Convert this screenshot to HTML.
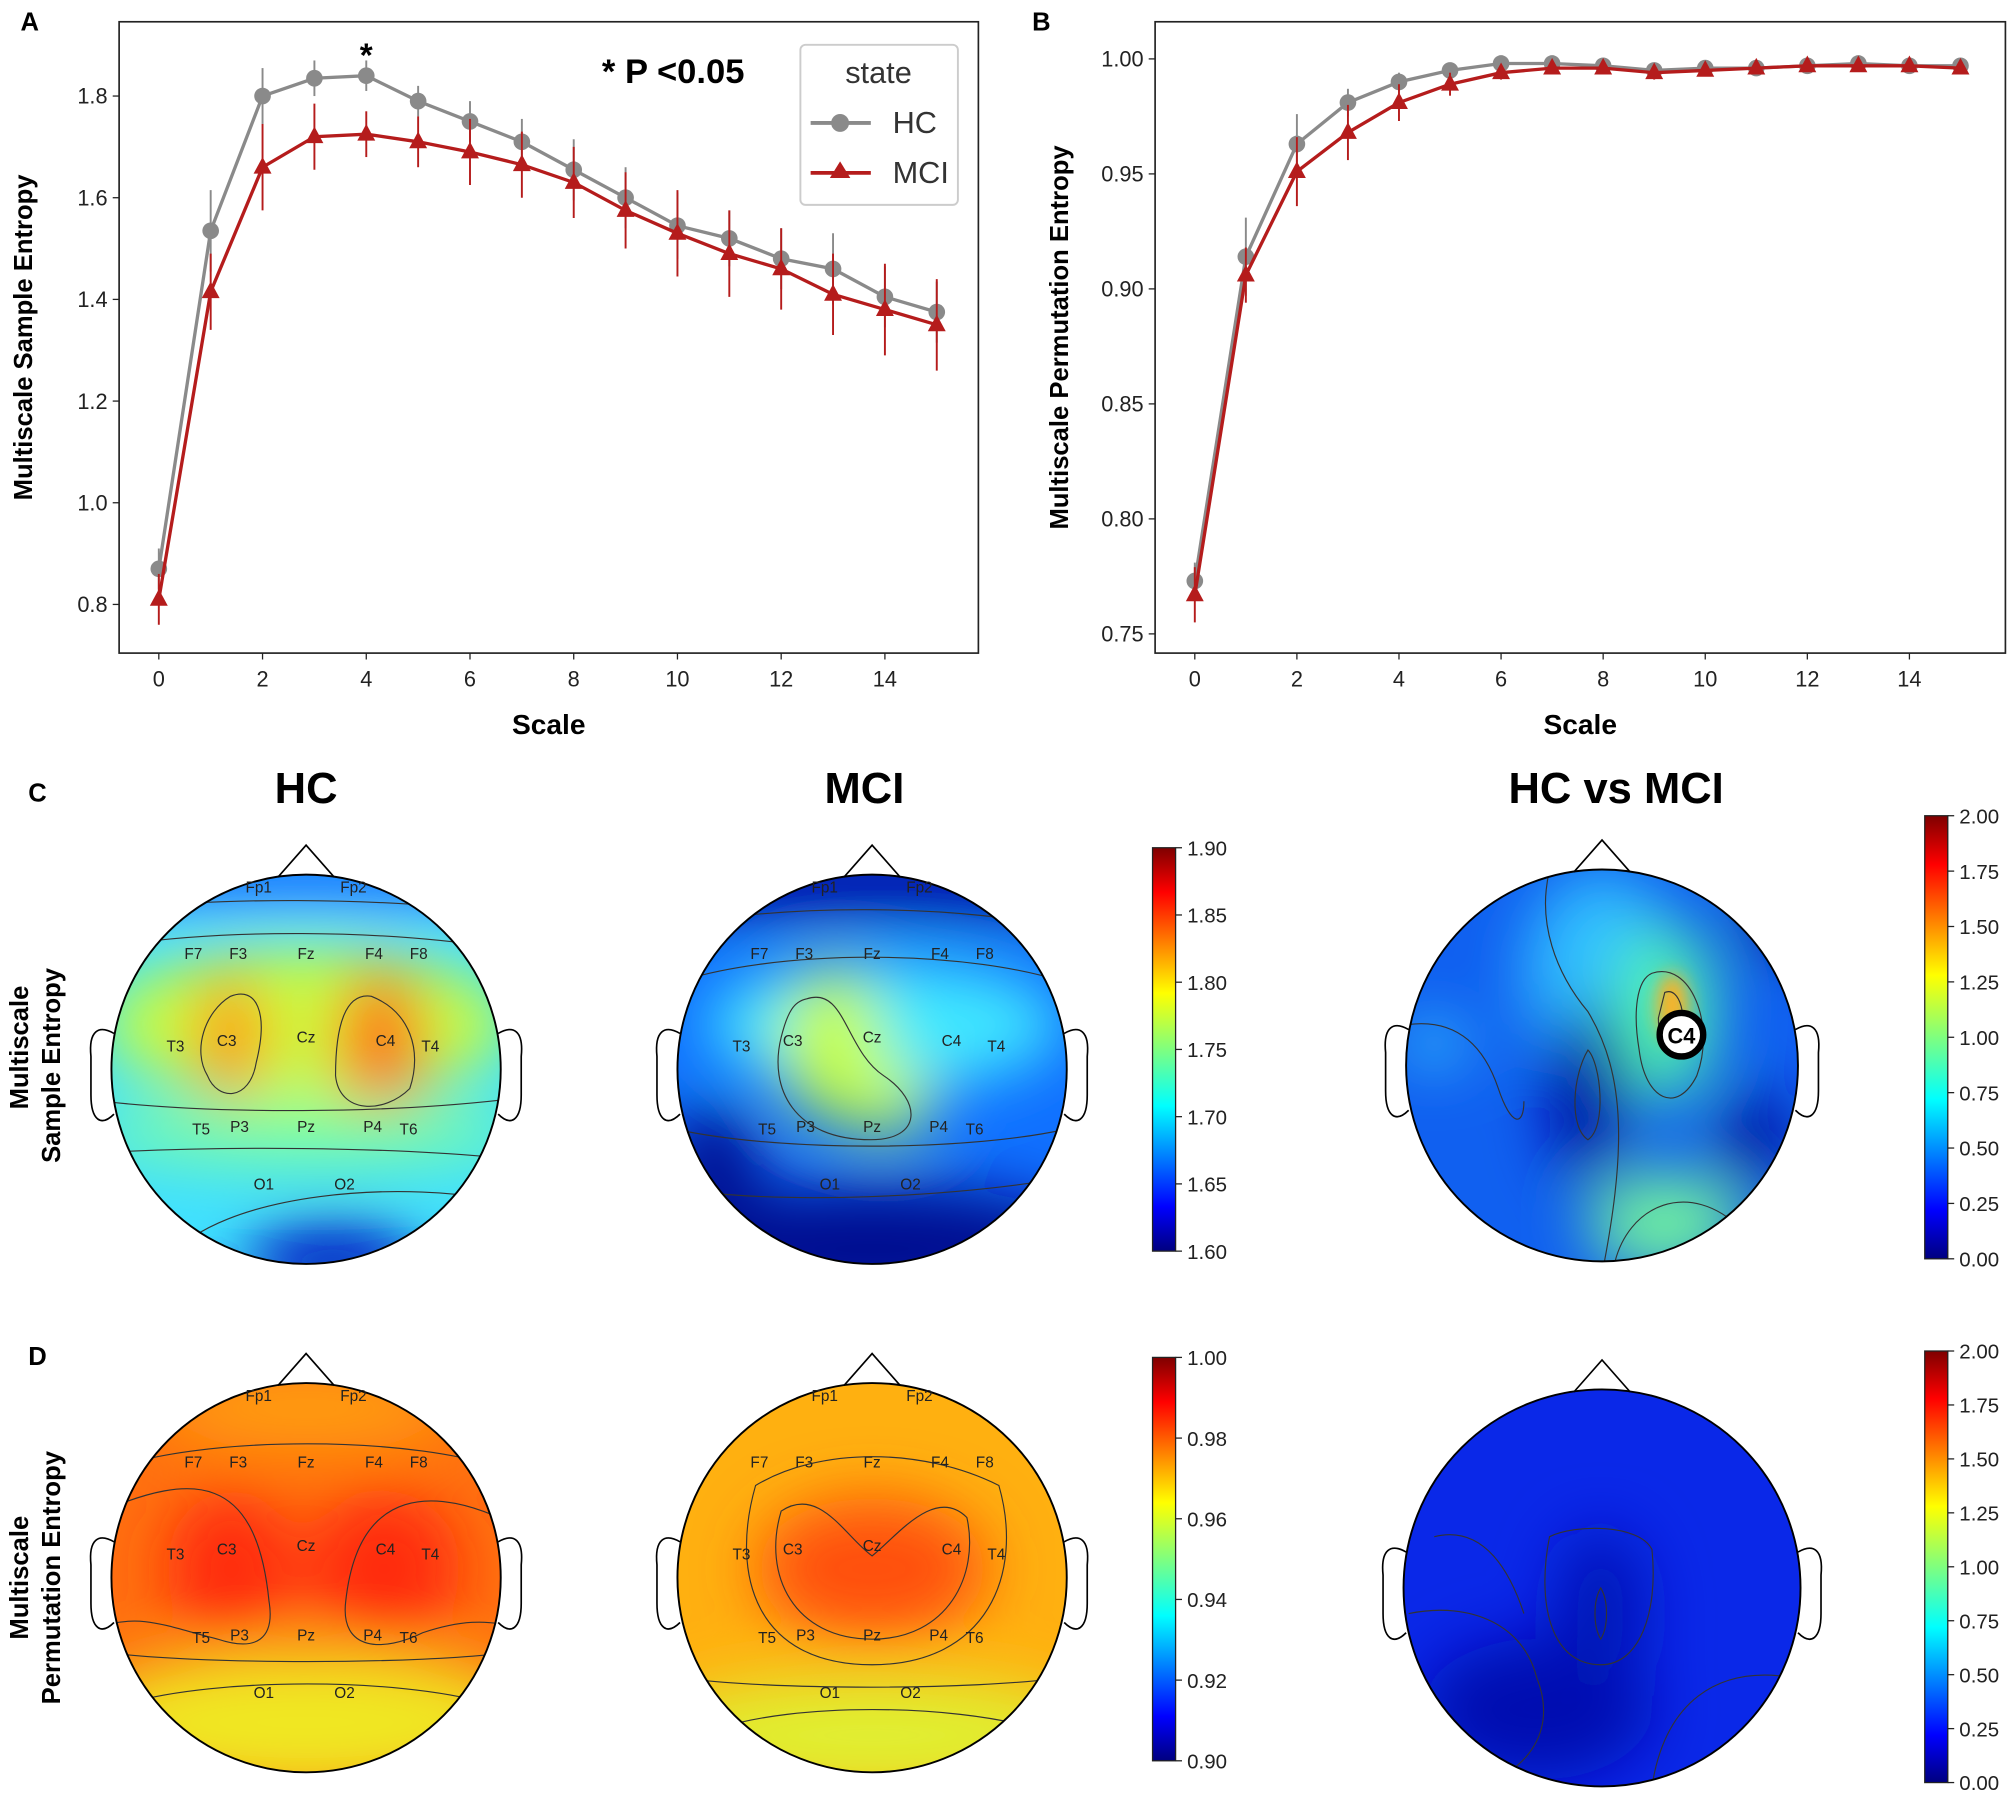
<!DOCTYPE html>
<html><head><meta charset="utf-8"><style>
html,body{margin:0;padding:0;background:#fff}
svg{display:block;font-family:"Liberation Sans",sans-serif}
</style></head><body>
<svg id="fig" width="2008" height="1806" viewBox="0 0 1568 1410.3" xmlns="http://www.w3.org/2000/svg">
<defs>
<linearGradient id="jet" x1="0" y1="1" x2="0" y2="0">
<stop offset="0" stop-color="#00007f"/><stop offset="0.11" stop-color="#0000ff"/><stop offset="0.36" stop-color="#00ffff"/><stop offset="0.5" stop-color="#7fff7f"/><stop offset="0.64" stop-color="#ffff00"/><stop offset="0.89" stop-color="#ff0000"/><stop offset="1" stop-color="#7f0000"/>
</linearGradient>
<filter id="bl" x="-50%" y="-50%" width="200%" height="200%"><feGaussianBlur stdDeviation="24"/></filter>
<filter id="bs" x="-100%" y="-100%" width="300%" height="300%"><feGaussianBlur stdDeviation="7"/></filter>
<clipPath id="c1"><circle cx="239" cy="835" r="152"/></clipPath>
<clipPath id="c2"><circle cx="681" cy="835" r="152"/></clipPath>
<clipPath id="c3"><circle cx="1251" cy="832" r="153"/></clipPath>
<clipPath id="c4"><circle cx="239" cy="1232" r="152"/></clipPath>
<clipPath id="c5"><circle cx="681" cy="1232" r="152"/></clipPath>
<clipPath id="c6"><circle cx="1251" cy="1240" r="155"/></clipPath>
</defs>
<g id="chartA"></g>
<g id="chartB"></g>

<text x="16" y="24" font-size="20" font-weight="bold">A</text>
<text x="806" y="24" font-size="20" font-weight="bold">B</text>
<text x="22" y="626" font-size="20" font-weight="bold">C</text>
<text x="22" y="1066" font-size="20" font-weight="bold">D</text>

<text x="239" y="627" font-size="34" font-weight="bold" text-anchor="middle">HC</text>
<text x="675" y="627" font-size="34" font-weight="bold" text-anchor="middle">MCI</text>
<text x="1262" y="627" font-size="34" font-weight="bold" text-anchor="middle">HC vs MCI</text>
<text transform="translate(22,818) rotate(-90)" font-size="20" font-weight="bold" text-anchor="middle">Multiscale</text>
<text transform="translate(47,832) rotate(-90)" font-size="20" font-weight="bold" text-anchor="middle">Sample Entropy</text>
<text transform="translate(22,1232) rotate(-90)" font-size="20" font-weight="bold" text-anchor="middle">Multiscale</text>
<text transform="translate(47,1232) rotate(-90)" font-size="20" font-weight="bold" text-anchor="middle">Permutation Entropy</text>

<g>
<g clip-path="url(#c1)"><rect x="80" y="680" width="320" height="320" fill="#40e0ff"/>
<g filter="url(#bl)"><rect x="60" y="660" width="360" height="45" fill="#1060ff"/><ellipse cx="239" cy="800" rx="160" ry="60" fill="#c8ff40"/><ellipse cx="180" cy="810" rx="30" ry="50" fill="#ff9a10"/><ellipse cx="297" cy="815" rx="35" ry="60" fill="#ff7010"/><ellipse cx="239" cy="885" rx="170" ry="25" fill="#80ffa0"/><ellipse cx="260" cy="985" rx="70" ry="30" fill="#0018c0"/></g></g>
<g fill="none" stroke="#333" stroke-width="0.9" clip-path="url(#c1)">
<path d="M80,712 C160,700 300,700 400,714"/><path d="M80,740 C170,725 300,725 400,742"/><path d="M80,860 C170,870 300,870 400,858"/><path d="M80,900 C170,895 300,895 400,905"/><path d="M130,985 C170,930 320,920 400,940"/>
<path d="M180,778 C200,770 210,790 200,830 C195,860 170,860 162,840 C150,820 160,790 180,778Z"/><path d="M290,778 C320,790 330,820 320,850 C300,870 265,870 262,840 C262,800 270,775 290,778Z"/></g>
<circle cx="239" cy="835" r="152" fill="none" stroke="#000" stroke-width="1.5"/></g>
<g>
<g clip-path="url(#c2)"><rect x="520" y="680" width="320" height="320" fill="#1070ff"/>
<g filter="url(#bl)"><rect x="500" y="660" width="360" height="55" fill="#0010a0"/><ellipse cx="690" cy="800" rx="140" ry="50" fill="#40e8ff"/><ellipse cx="650" cy="815" rx="40" ry="60" fill="#c8ff40"/><ellipse cx="690" cy="860" rx="40" ry="25" fill="#c8ff40"/><ellipse cx="681" cy="975" rx="180" ry="50" fill="#000c90"/><ellipse cx="555" cy="905" rx="40" ry="40" fill="#000c90"/></g></g>
<g fill="none" stroke="#333" stroke-width="0.9" clip-path="url(#c2)">
<path d="M520,725 C600,705 760,705 840,728"/><path d="M520,770 C600,740 760,740 840,770"/><path d="M520,880 C600,900 760,900 840,880"/><path d="M540,930 C620,940 740,935 830,920"/><path d="M630,780 C660,770 660,820 690,840 C720,860 720,890 680,890 C620,890 600,850 610,810 C615,790 620,782 630,780Z"/></g>
<circle cx="681" cy="835" r="152" fill="none" stroke="#000" stroke-width="1.5"/></g>
<g>
<g clip-path="url(#c3)"><rect x="1090" y="670" width="330" height="330" fill="#1060f0"/>
<g filter="url(#bl)"><ellipse cx="1250" cy="760" rx="60" ry="80" fill="#30c0ff"/><ellipse cx="1300" cy="790" rx="40" ry="70" fill="#50f0b0"/><ellipse cx="1300" cy="955" rx="60" ry="40" fill="#70f0a0"/><ellipse cx="1240" cy="855" rx="30" ry="70" fill="#0010a0"/><ellipse cx="1370" cy="890" rx="30" ry="40" fill="#0018a0"/><ellipse cx="1390" cy="720" rx="30" ry="30" fill="#0018a0"/><ellipse cx="1120" cy="815" rx="25" ry="15" fill="#40e0ff"/></g>
<ellipse cx="1306" cy="786" rx="12" ry="26" fill="#ffb020" filter="url(#bs)"/></g>
<g fill="none" stroke="#333" stroke-width="0.9" clip-path="url(#c3)">
<path d="M1210,680 C1200,720 1215,760 1240,790 C1270,840 1270,900 1250,1000"/><path d="M1290,760 C1320,750 1340,800 1325,840 C1310,870 1285,860 1280,820 C1275,790 1278,765 1290,760Z"/><path d="M1300,775 C1312,770 1318,795 1312,815 C1305,830 1295,815 1295,795Z"/><path d="M1100,800 C1140,795 1160,820 1170,850 C1180,880 1190,880 1190,860"/><path d="M1240,820 C1250,830 1255,880 1240,890 C1225,880 1228,840 1240,820Z"/><path d="M1260,990 C1270,940 1320,920 1360,960"/></g>
<circle cx="1251" cy="832" r="153" fill="none" stroke="#000" stroke-width="1.5"/>
<circle cx="1313" cy="808" r="17" fill="#fff" stroke="#000" stroke-width="5"/>
<text x="1313" y="815" font-size="17" font-weight="bold" text-anchor="middle">C4</text></g>
<g>
<g clip-path="url(#c4)"><rect x="80" y="1075" width="320" height="320" fill="#ff7010"/>
<g filter="url(#bl)"><ellipse cx="180" cy="1225" rx="50" ry="60" fill="#ff2a10"/><ellipse cx="300" cy="1225" rx="60" ry="60" fill="#ff2a10"/><ellipse cx="239" cy="1345" rx="180" ry="55" fill="#f0e820"/><ellipse cx="239" cy="1100" rx="120" ry="30" fill="#ffa010"/></g></g>
<g fill="none" stroke="#333" stroke-width="0.9" clip-path="url(#c4)">
<path d="M80,1180 C150,1150 200,1150 210,1250 C215,1280 200,1290 170,1280 C130,1270 110,1260 80,1270"/><path d="M400,1190 C340,1160 280,1160 270,1250 C265,1290 300,1290 330,1275 C360,1265 380,1265 400,1270"/><path d="M80,1290 C150,1300 330,1300 400,1290"/><path d="M100,1330 C170,1310 310,1310 380,1330"/><path d="M80,1150 C150,1120 330,1120 400,1150"/></g>
<circle cx="239" cy="1232" r="152" fill="none" stroke="#000" stroke-width="1.5"/></g>
<g>
<g clip-path="url(#c5)"><rect x="520" y="1075" width="320" height="320" fill="#ffb010"/>
<g filter="url(#bl)"><ellipse cx="681" cy="1225" rx="90" ry="55" fill="#ff5010"/><ellipse cx="681" cy="1355" rx="180" ry="45" fill="#e0f030"/></g></g>
<g fill="none" stroke="#333" stroke-width="0.9" clip-path="url(#c5)">
<path d="M610,1180 C640,1160 660,1200 681,1215 C700,1200 730,1160 755,1185 C765,1230 740,1280 681,1280 C620,1280 595,1230 610,1180Z"/><path d="M590,1160 C640,1130 720,1130 780,1160 C800,1230 770,1300 681,1300 C590,1300 570,1230 590,1160Z"/><path d="M530,1310 C600,1320 760,1320 830,1310"/><path d="M560,1350 C620,1330 740,1330 810,1350"/></g>
<circle cx="681" cy="1232" r="152" fill="none" stroke="#000" stroke-width="1.5"/></g>
<g>
<g clip-path="url(#c6)"><rect x="1090" y="1080" width="330" height="330" fill="#0a28e8"/>
<g filter="url(#bl)"><ellipse cx="1200" cy="1335" rx="90" ry="55" fill="#0010b0"/><ellipse cx="1250" cy="1260" rx="35" ry="65" fill="#0014b8"/></g></g>
<g fill="none" stroke="#333" stroke-width="0.9" clip-path="url(#c6)">
<path d="M1210,1200 C1230,1190 1280,1190 1290,1210 C1295,1260 1280,1300 1250,1300 C1210,1300 1200,1250 1210,1200Z"/><path d="M1100,1260 C1150,1250 1190,1270 1200,1310 C1220,1360 1180,1390 1150,1395"/><path d="M1120,1200 C1160,1190 1180,1230 1190,1260"/><path d="M1250,1240 C1256,1250 1256,1270 1250,1280 C1244,1270 1244,1250 1250,1240Z"/><path d="M1290,1395 C1300,1330 1340,1300 1400,1310"/></g>
<circle cx="1251" cy="1240" r="155" fill="none" stroke="#000" stroke-width="1.5"/></g>
<g id="heads" fill="none" stroke="#000" stroke-width="1.3"></g>
<g id="elec" font-size="11" fill="#222"></g>
<g id="cbars"></g>
</svg>
<script>
const NS="http://www.w3.org/2000/svg";
function mk(p,t,a,txt){const e=document.createElementNS(NS,t);for(const k in a)e.setAttribute(k,a[k]);if(txt!=null)e.textContent=txt;p.appendChild(e);return e;}
const scales=[0,1,2,3,4,5,6,7,8,9,10,11,12,13,14,15];
const hcSamp=[0.87,1.535,1.80,1.835,1.84,1.79,1.75,1.71,1.655,1.60,1.545,1.52,1.48,1.46,1.405,1.375];
const hcSampErr=[0.04,0.08,0.055,0.035,0.03,0.03,0.04,0.045,0.06,0.06,0.065,0.055,0.06,0.07,0.06,0.06];
const mciSamp=[0.81,1.415,1.66,1.72,1.725,1.71,1.69,1.665,1.63,1.575,1.53,1.49,1.46,1.41,1.38,1.35];
const mciSampErr=[0.05,0.075,0.085,0.065,0.045,0.05,0.065,0.065,0.07,0.075,0.085,0.085,0.08,0.08,0.09,0.09];
const hcPerm=[0.773,0.914,0.963,0.981,0.990,0.995,0.998,0.998,0.997,0.995,0.996,0.996,0.997,0.998,0.997,0.997];
const hcPermErr=[0.008,0.017,0.013,0.006,0.004,0.002,0.001,0.001,0.001,0.002,0.001,0.001,0.001,0.001,0.001,0.001];
const mciPerm=[0.767,0.906,0.951,0.968,0.981,0.989,0.994,0.996,0.996,0.994,0.995,0.996,0.997,0.997,0.997,0.996];
const mciPermErr=[0.012,0.012,0.015,0.012,0.008,0.005,0.003,0.002,0.002,0.003,0.002,0.002,0.001,0.001,0.001,0.002];
const xTicks=[0,2,4,6,8,10,12,14];
const yTicksA=[0.8,1.0,1.2,1.4,1.6,1.8];
const yTicksB=[0.75,0.80,0.85,0.90,0.95,1.00];

function chart(g,box,xs,ys,yt,fmt,series,ylab){
  mk(g,'rect',{x:box.l,y:box.t,width:box.r-box.l,height:box.b-box.t,fill:'none',stroke:'#222','stroke-width':1.3});
  xTicks.forEach(v=>{const x=xs(v);mk(g,'line',{x1:x,x2:x,y1:box.b,y2:box.b+5,stroke:'#222'});
    const t=mk(g,'text',{x:x,y:box.b+26,'font-size':17,'text-anchor':'middle',fill:'#222'},v);});
  yt.forEach(v=>{const y=ys(v);mk(g,'line',{x1:box.l-5,x2:box.l,y1:y,y2:y,stroke:'#222'});
    const t=mk(g,'text',{x:box.l-9,y:y+6,'font-size':17,'text-anchor':'end',fill:'#222'},fmt(v));});
  const xl=mk(g,'text',{x:(box.l+box.r)/2,y:box.b+63,'font-size':22,'font-weight':'bold','text-anchor':'middle'},'Scale');
  
  const yl=mk(g,'text',{transform:`translate(${box.l-68},${(box.t+box.b)/2}) rotate(-90)`,'font-size':20,'font-weight':'bold','text-anchor':'middle'},ylab);
  
  series.forEach(s=>{
    const sg=mk(g,'g',{});
    scales.forEach((sc,i)=>{const x=xs(sc);const l=mk(sg,'line',{x1:x,x2:x,y1:ys(s.v[i]-s.e[i]),y2:ys(s.v[i]+s.e[i]),stroke:s.c,'stroke-width':1.5});
      });
    const p=mk(sg,'polyline',{points:scales.map((sc,i)=>xs(sc)+','+ys(s.v[i])).join(' '),fill:'none',stroke:s.c,'stroke-width':2.6});
    
    scales.forEach((sc,i)=>{const x=xs(sc),y=ys(s.v[i]);let m;
      if(s.tri)m=mk(sg,'polygon',{points:`${x},${y-8} ${x-7},${y+5} ${x+7},${y+5}`,fill:s.c});
      else m=mk(sg,'circle',{cx:x,cy:y,r:6.5,fill:s.c});
      });
  });
}
const A=document.getElementById('chartA');
const bA={l:93,r:764,t:17,b:510};
chart(A,bA,v=>124+v*40.5,v=>472-(v-0.8)*397,yTicksA,v=>v.toFixed(1),
 [{name:'hc-series',v:hcSamp,e:hcSampErr,c:'#8a8a8a'},{name:'mci-series',v:mciSamp,e:mciSampErr,c:'#b51c1c',tri:true}],'Multiscale Sample Entropy');
const st=mk(A,'text',{x:286,y:52,'font-size':26,'font-weight':'bold','text-anchor':'middle'},'*');
const pt=mk(A,'text',{x:470,y:65,'font-size':27,'font-weight':'bold'},'* P <0.05');
const lg=mk(A,'g',{});
mk(lg,'rect',{x:625,y:35,width:123,height:125,rx:4,fill:'#fff',stroke:'#ccc','stroke-width':1.5});
mk(lg,'text',{x:686,y:65,'font-size':24,'text-anchor':'middle',fill:'#333'},'state');
mk(lg,'line',{x1:633,x2:680,y1:96,y2:96,stroke:'#8a8a8a','stroke-width':3});mk(lg,'circle',{cx:656,cy:96,r:7,fill:'#8a8a8a'});
mk(lg,'text',{x:697,y:104,'font-size':24,fill:'#333'},'HC');
mk(lg,'line',{x1:633,x2:680,y1:135,y2:135,stroke:'#b51c1c','stroke-width':3});mk(lg,'polygon',{points:'656,126 648,139 664,139',fill:'#b51c1c'});
mk(lg,'text',{x:697,y:143,'font-size':24,fill:'#333'},'MCI');
const B=document.getElementById('chartB');
chart(B,{l:902,r:1566,t:17,b:510},v=>933+v*39.86,v=>46+(1-v)*1796,yTicksB,v=>v.toFixed(2),
 [{name:'hc-series',v:hcPerm,e:hcPermErr,c:'#8a8a8a'},{name:'mci-series',v:mciPerm,e:mciPermErr,c:'#b51c1c',tri:true}],'Multiscale Permutation Entropy');

const H=document.getElementById('heads');
[[239,835,152],[681,835,152],[1251,832,153],[239,1232,152],[681,1232,152],[1251,1240,155]].forEach(([cx,cy,r])=>{
  mk(H,'polyline',{points:`${cx-22},${cy-r+2} ${cx},${cy-r-23} ${cx+22},${cy-r+2}`});
  mk(H,'path',{d:`M${cx-r+2},${cy-28} C${cx-r-10},${cy-35} ${cx-r-18},${cy-30} ${cx-r-16},${cy-10} L${cx-r-16},${cy+20} C${cx-r-16},${cy+40} ${cx-r-8},${cy+45} ${cx-r+2},${cy+35}`});
  mk(H,'path',{d:`M${cx+r-2},${cy-28} C${cx+r+10},${cy-35} ${cx+r+18},${cy-30} ${cx+r+16},${cy-10} L${cx+r+16},${cy+20} C${cx+r+16},${cy+40} ${cx+r+8},${cy+45} ${cx+r-2},${cy+35}`});
});
const el=[['Fp1',-37,-142],['Fp2',37,-142],['F7',-88,-90],['F3',-53,-90],['Fz',0,-90],['F4',53,-90],['F8',88,-90],['T3',-102,-18],['C3',-62,-22],['Cz',0,-25],['C4',62,-22],['T4',97,-18],['T5',-82,47],['P3',-52,45],['Pz',0,45],['P4',52,45],['T6',80,47],['O1',-33,90],['O2',30,90]];
const E=document.getElementById('elec');
[[239,835],[681,835],[239,1232],[681,1232]].forEach(([cx,cy])=>el.forEach(([n,dx,dy])=>mk(E,'text',{x:cx+dx,y:cy+dy+4,'text-anchor':'middle','font-size':12},n)));
const C=document.getElementById('cbars');
function cbar(x,y0,y1,labels){mk(C,'rect',{x:x,y:y0,width:18,height:y1-y0,fill:'url(#jet)',stroke:'#222'});
  labels.forEach((l,i)=>{const y=y1-(y1-y0)*i/(labels.length-1);mk(C,'line',{x1:x+18,x2:x+23,y1:y,y2:y,stroke:'#222'});mk(C,'text',{x:x+27,y:y+6,'font-size':16,fill:'#222'},l);});}
cbar(900,662,977,['1.60','1.65','1.70','1.75','1.80','1.85','1.90']);
cbar(1503,637,983,['0.00','0.25','0.50','0.75','1.00','1.25','1.50','1.75','2.00']);
cbar(900,1060,1375,['0.90','0.92','0.94','0.96','0.98','1.00']);
cbar(1503,1055,1392,['0.00','0.25','0.50','0.75','1.00','1.25','1.50','1.75','2.00']);
</script>
</body></html>
